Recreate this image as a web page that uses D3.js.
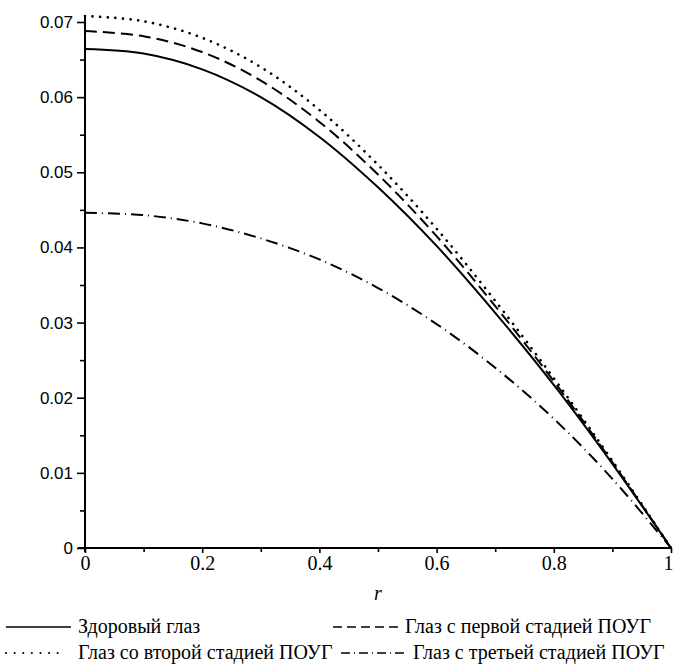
<!DOCTYPE html>
<html><head><meta charset="utf-8">
<script src="https://cdn.jsdelivr.net/npm/d3@7"></script>
<style>body{margin:0;background:#fff}</style>
</head><body>
<svg id="c" width="674" height="667"></svg>
<script>
const rValues = [0, 0.1, 0.2, 0.3, 0.4, 0.5, 0.6, 0.7, 0.8, 0.9, 1.0];
const healthy = [0.0664, 0.0658, 0.0637, 0.0600, 0.0547, 0.0480, 0.0402, 0.0313, 0.0217, 0.0112, 0];
const stage1  = [0.0688, 0.0681, 0.0660, 0.0622, 0.0567, 0.0497, 0.0415, 0.0322, 0.0222, 0.0114, 0];
const stage2  = [0.0708, 0.0701, 0.0679, 0.0640, 0.0583, 0.0510, 0.0425, 0.0329, 0.0226, 0.0116, 0];
const stage3  = [0.0446, 0.0443, 0.0432, 0.0412, 0.0384, 0.0346, 0.0298, 0.0240, 0.0172, 0.0092, 0];
const xTicks = [0, 0.2, 0.4, 0.6, 0.8, 1];
const xMinor = [0.1, 0.3, 0.5, 0.7, 0.9];
const yTicks = [0, 0.01, 0.02, 0.03, 0.04, 0.05, 0.06, 0.07];
const yMinor = [0.005, 0.015, 0.025, 0.035, 0.045, 0.055, 0.065];
const seriesNames = ["Здоровый глаз", "Глаз с первой стадией ПОУГ", "Глаз со второй стадией ПОУГ", "Глаз с третьей стадией ПОУГ"];
const xLabel = "r";

const svg = d3.select("#c");
const x = d3.scaleLinear().domain([0, 1]).range([85, 671]);
const y = d3.scaleLinear().domain([0, 0.07]).range([548, 22]);
const yTop = d3.max(stage2);

const styles = [
  {dash: null, cap: "butt"},
  {dash: "12,6", cap: "butt"},
  {dash: "0.1,7.5", cap: "round"},
  {dash: "12,5,1,5", cap: "butt"}
];
const legendStyles = [
  {dash: null, cap: "butt"},
  {dash: "9,5", cap: "butt"},
  {dash: "0.1,8.5", cap: "round"},
  {dash: "9,4,1,4", cap: "butt"}
];

// axes
const yAxis = d3.axisLeft(y).tickValues(yTicks).tickSize(8).tickSizeOuter(0)
  .tickFormat(d => d === 0 ? "0" : d3.format(".2f")(d));
const gy = svg.append("g").attr("transform", `translate(${x(0)},0)`).call(yAxis);
gy.select(".domain").remove();
gy.selectAll(".tick line").attr("stroke", "#000").attr("stroke-width", 1.6);
gy.selectAll(".tick text").attr("font-family", "Liberation Sans, Arial, sans-serif")
  .attr("font-size", 17).attr("fill", "#000").attr("x", -12);
const gyMinor = svg.append("g").attr("transform", `translate(${x(0)},0)`)
  .call(d3.axisLeft(y).tickValues(yMinor).tickSize(5).tickFormat(""));
gyMinor.select(".domain").remove();
gyMinor.selectAll(".tick line").attr("stroke", "#000").attr("stroke-width", 1.6);

const xAxis = d3.axisBottom(x).tickValues(xTicks).tickSize(5).tickSizeOuter(0)
  .tickFormat(d3.format("~g"));
const gx = svg.append("g").attr("transform", `translate(0,${y(0)})`).call(xAxis);
gx.select(".domain").remove();
gx.selectAll(".tick line").attr("stroke", "#000").attr("stroke-width", 1.6);
gx.selectAll(".tick text").attr("font-family", "Liberation Serif, Times New Roman, serif")
  .attr("font-size", 20).attr("fill", "#000").attr("y", 8)
  .attr("dx", d => d === 1 ? -3 : 0);
const gxMinor = svg.append("g").attr("transform", `translate(0,${y(0)})`)
  .call(d3.axisBottom(x).tickValues(xMinor).tickSize(4).tickFormat(""));
gxMinor.select(".domain").remove();
gxMinor.selectAll(".tick line").attr("stroke", "#000").attr("stroke-width", 1.6);

svg.append("line").attr("x1", x(0)).attr("x2", x(0)).attr("y1", y(0) + 4).attr("y2", y(yTop))
  .attr("stroke", "#000").attr("stroke-width", 2);
svg.append("line").attr("x1", x(0) - 7).attr("x2", x(1)).attr("y1", y(0)).attr("y2", y(0))
  .attr("stroke", "#000").attr("stroke-width", 2);

svg.append("text").attr("x", (x(0) + x(1)) / 2).attr("y", 600).attr("text-anchor", "middle")
  .attr("font-family", "Liberation Serif, Times New Roman, serif").attr("font-style", "italic")
  .attr("font-size", 20).text(xLabel);

// curves
const data = [healthy, stage1, stage2, stage3];
const line = d3.line().x((d, i) => x(rValues[i])).y(d => y(d)).curve(d3.curveCatmullRom.alpha(0.5));
data.forEach((s, k) => {
  svg.append("path").attr("d", line(s)).attr("fill", "none").attr("stroke", "#000")
    .attr("stroke-width", k === 2 ? 2.6 : 2)
    .attr("stroke-dasharray", styles[k].dash).attr("stroke-linecap", styles[k].cap);
});

// legend
const legendPos = [
  {x1: 6, x2: 71, tx: 78, y: 627},
  {x1: 333, x2: 400, tx: 405, y: 627},
  {x1: 6, x2: 63, tx: 78, y: 653},
  {x1: 341, x2: 408, tx: 413, y: 653}
];
legendPos.forEach((p, k) => {
  svg.append("line").attr("x1", p.x1).attr("x2", p.x2).attr("y1", p.y).attr("y2", p.y)
    .attr("stroke", "#000").attr("stroke-width", k === 2 ? 2 : 1.6)
    .attr("stroke-dasharray", legendStyles[k].dash).attr("stroke-linecap", legendStyles[k].cap);
  svg.append("text").attr("x", p.tx).attr("y", p.y + 6)
    .attr("font-family", "Liberation Serif, Times New Roman, serif").attr("font-size", 20)
    .attr("fill", "#000").text(seriesNames[k]);
});
</script>
</body></html>
